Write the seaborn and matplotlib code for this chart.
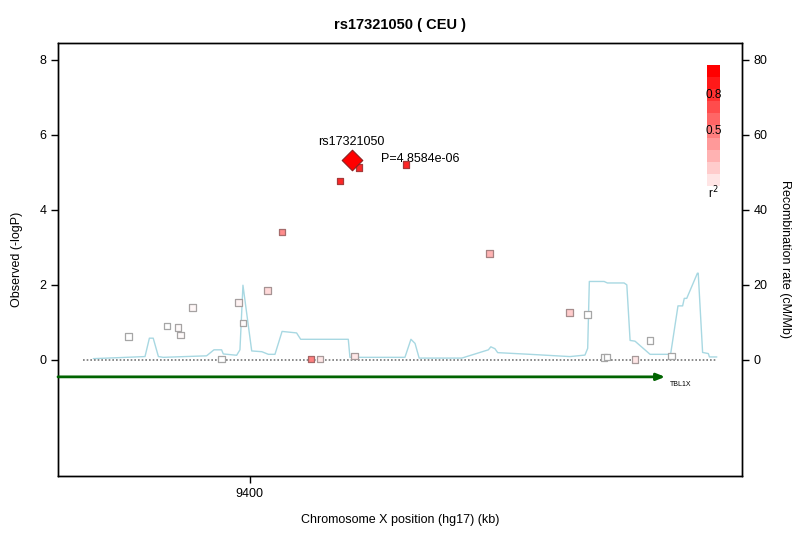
import numpy as np
import pandas as pd
import matplotlib
matplotlib.use("Agg")
import matplotlib.pyplot as plt
import seaborn as sns

# ---- data ----
snp_pos_kb = [9355.7, 9369.8, 9373.8, 9374.8, 9379.2, 9389.8, 9396.0, 9397.6,
              9406.5, 9411.8, 9422.4, 9425.7, 9433.1, 9438.4, 9440.1, 9457.2,
              9487.8, 9517.0, 9523.6, 9529.6, 9530.6, 9540.9, 9546.3, 9554.2]
snp_logp = [0.62, 0.90, 0.86, 0.67, 1.39, 0.03, 1.53, 0.99,
            1.85, 3.41, 0.03, 0.03, 4.76, 0.11, 5.12, 5.20,
            2.83, 1.26, 1.21, 0.06, 0.08, 0.01, 0.52, 0.11]
snp_r2 = [0.0, 0.0, 0.02, 0.02, 0.03, 0.0, 0.05, 0.02,
          0.15, 0.45, 0.5, 0.1, 0.85, 0.1, 0.85, 0.85,
          0.3, 0.2, 0.0, 0.0, 0.0, 0.1, 0.0, 0.0]

lead_snp = "rs17321050"
lead_pos_kb = 9437.3
lead_logp = 5.32
lead_p_label = "P=4.8584e-06"

recomb_pos_kb = [9342.9, 9361.8, 9363.4, 9364.8, 9366.7, 9368.5, 9384.3, 9387.0,
                 9389.8, 9390.4, 9395.3, 9396.5, 9397.6, 9400.8, 9404.5, 9406.9,
                 9409.3, 9411.9, 9417.2, 9418.7, 9436.1, 9436.7, 9456.8, 9459.0,
                 9460.5, 9462.0, 9477.6, 9487.3, 9488.2, 9489.7, 9490.7, 9502.5,
                 9517.1, 9522.6, 9523.6, 9524.2, 9529.6, 9530.8, 9536.9, 9537.9,
                 9539.1, 9540.9, 9546.4, 9553.9, 9556.6, 9558.3, 9558.9, 9559.8,
                 9563.7, 9564.0, 9565.6, 9567.7, 9568.1, 9570.8]
recomb_rate = [0.35, 0.9, 5.8, 5.8, 0.9, 0.7, 1.1, 2.7,
               2.7, 1.6, 1.25, 2.7, 19.9, 2.4, 2.2, 1.5,
               1.5, 7.6, 7.2, 5.5, 5.5, 0.7, 0.7, 5.5,
               4.4, 0.5, 0.5, 2.7, 3.5, 3.0, 1.95, 1.5,
               0.9, 1.3, 3.1, 20.9, 20.9, 20.5, 20.5, 20.0,
               5.2, 5.0, 1.5, 1.5, 14.4, 14.4, 16.4, 16.4,
               23.1, 23.1, 2.0, 1.7, 0.8, 0.8]

gene_name = "TBL1X"
gene_start_kb = 9330.0
gene_end_kb = 9551.9

baseline_span_kb = [9339.1, 9570.9]
x_ticks = [9400]
left_ticks = [0, 2, 4, 6, 8]
right_ticks = [0, 20, 40, 60, 80]
legend_levels = [1.0, 0.9, 0.8, 0.7, 0.6, 0.5, 0.4, 0.3, 0.2, 0.1]
legend_labels = {0.8: "0.8", 0.5: "0.5"}

title = "rs17321050 ( CEU )"
xlabel = "Chromosome X position (hg17) (kb)"
ylabel = "Observed (-logP)"
y2label = "Recombination rate (cM/Mb)"

# ---- style ----
sns.set_style("ticks")
plt.rcParams['font.family'] = ['Liberation Sans', 'DejaVu Sans']
plt.rcParams['axes.linewidth'] = 1.0
plt.rcParams['text.color'] = 'black'
plt.rcParams['axes.labelcolor'] = 'black'

def r2_color(r):
    return (1.0, 1.0 - r, 1.0 - r)

def edge_color(r):
    f = np.array(r2_color(r))
    return tuple(0.5 * f + 0.5 * 0.3)

fig = plt.figure(figsize=(8.0, 5.34), dpi=100)
ax = fig.add_axes([0.0725, 0.1086, 0.855, 0.8109])
ax2 = ax.twinx()
ax.set_zorder(ax2.get_zorder() + 1)
ax.patch.set_visible(False)

xlim = (9330, 9580)
ylim = (-3.09, 8.44)

# recombination line on right axis
rec_df = pd.DataFrame({"pos": recomb_pos_kb, "rate": recomb_rate})
sns.lineplot(data=rec_df, x="pos", y="rate", ax=ax2, sort=False, estimator=None,
             color="#a8d8e2", linewidth=1.0)
ax2.set_ylim(ylim[0] * 10, ylim[1] * 10)
ax2.set_yticks(right_ticks)
ax2.set_ylabel(y2label, rotation=270, labelpad=17, fontsize=9)
ax2.set_xlim(*xlim)

# baseline dotted
base_df = pd.DataFrame({"pos": baseline_span_kb, "v": [0, 0]})
sns.lineplot(data=base_df, x="pos", y="v", ax=ax, color="#777777",
             linestyle=(0, (1, 1.2)), linewidth=1.2, estimator=None)

# gene arrow
ax.annotate("", xy=(gene_end_kb, -0.45), xytext=(gene_start_kb, -0.45),
            arrowprops=dict(arrowstyle="-|>,head_length=0.5,head_width=0.2",
                            color="#006400", lw=2.0, shrinkA=0, shrinkB=0))
ax.text(gene_end_kb + 5.5, -0.55, gene_name, fontsize=5, ha="center", va="top")

# SNPs
snp_df = pd.DataFrame({"pos": snp_pos_kb, "logp": snp_logp, "r2": snp_r2})
snp_df["fill"] = [r2_color(r) for r in snp_r2]
snp_df["edge"] = [edge_color(r) for r in snp_r2]
sns.scatterplot(data=snp_df, x="pos", y="logp", ax=ax, marker="s", s=22,
                c=list(snp_df["fill"]), edgecolor=list(snp_df["edge"]),
                linewidth=0.9, legend=False, zorder=5)

lead_df = pd.DataFrame({"pos": [lead_pos_kb], "logp": [lead_logp]})
sns.scatterplot(data=lead_df, x="pos", y="logp", ax=ax, marker="D", s=110,
                color="#ff0000", edgecolor="#8b2020", linewidth=0.8,
                legend=False, zorder=6)
ax.text(lead_pos_kb, lead_logp + 0.33, lead_snp, fontsize=9, ha="center",
        va="bottom")
ax.text(lead_pos_kb + 10.7, lead_logp + 0.02, lead_p_label, fontsize=9,
        ha="left", va="center")

ax.set_xlim(*xlim)
ax.set_ylim(*ylim)
ax.set_xticks(x_ticks)
ax.set_yticks(left_ticks)
ax.set_xlabel(xlabel, fontsize=9, labelpad=10)
ax.set_ylabel(ylabel, fontsize=9, labelpad=12)
ax.set_title(title, fontsize=10.5, fontweight="bold", pad=10, color="black")

for a in (ax, ax2):
    a.tick_params(direction="out", length=5, width=1, labelsize=9, colors="black")
    for s in a.spines.values():
        s.set_visible(True)
        s.set_color("black")
        s.set_linewidth(1.0)

# r2 legend bar
cax = fig.add_axes([707 / 800, (534 - 186) / 534, 13 / 800, 121 / 534])
bar = np.array([[r2_color(r) for r in legend_levels]]).transpose(1, 0, 2)
cax.imshow(bar, aspect="auto", extent=(0, 1, 0, len(legend_levels)))
cax.set_axis_off()
for i, r in enumerate(legend_levels):
    if r in legend_labels:
        cax.text(0.5, len(legend_levels) - i - 0.45, legend_labels[r],
                 ha="center", va="center", fontsize=8.5)
cax.text(0.5, 0.1, "r$^2$", ha="center", va="top", fontsize=8.5)

fig.savefig("out.png", dpi=100)
